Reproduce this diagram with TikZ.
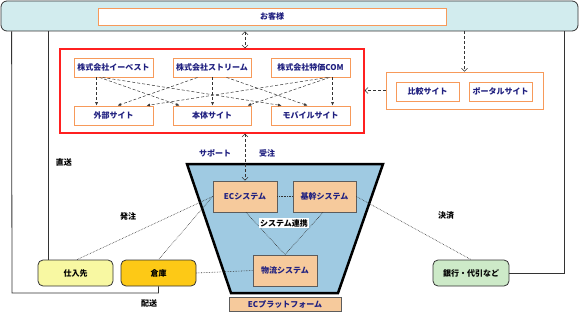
\documentclass[tikz,border=0pt]{standalone}
\usepackage{fontspec}
\newfontfamily\jp{Noto Sans CJK JP}
\usetikzlibrary{arrows.meta,calc}
\definecolor{cyanbg}{HTML}{D2ECEE}
\definecolor{orangeb}{HTML}{F79A5A}
\definecolor{bluebg}{HTML}{9FCAE2}
\definecolor{tanbg}{HTML}{F6CA9C}
\definecolor{supc}{HTML}{F8F8A2}
\definecolor{storec}{HTML}{FDC916}
\definecolor{bankc}{HTML}{CDEAC8}
\definecolor{darkline}{HTML}{333333}
\definecolor{navy}{HTML}{202080}
\definecolor{redb}{HTML}{FF2020}
\tikzset{
  obox/.style={draw=orangeb, line width=0.9pt, fill=white, text=navy, inner sep=0pt, minimum height=19pt},
  sysbox/.style={draw=darkline!80, fill=tanbg, line width=0.8pt, text=navy, minimum width=64pt, minimum height=31pt, inner sep=0pt},
  rbox/.style={draw=darkline, line width=0.8pt, rounded corners=5pt, minimum width=75pt, minimum height=26pt, inner sep=0pt, text=black},
  darrow/.style={densely dashed, draw=darkline, line width=0.5pt, -{Latex[length=3.5pt,width=3pt]}},
  barb/.style={densely dashed, draw=darkline, line width=0.5pt, -{Straight Barb[length=3pt,width=6pt]}},
  dbarb/.style={densely dashed, draw=darkline, line width=0.5pt, {Straight Barb[length=3pt,width=6pt]}-{Straight Barb[length=3pt,width=6pt]}},
  dotline/.style={densely dotted, draw=darkline, line width=0.6pt},
  conn/.style={draw=darkline, line width=0.8pt},
  lbl/.style={text=black, inner sep=1pt},
}
\begin{document}
\begin{tikzpicture}[x=1pt,y=-1pt,font=\jp\bfseries\fontsize{8}{9}\selectfont]
\useasboundingbox (0,0) rectangle (579,313);
% banner
\node[draw=darkline, line width=0.8pt, fill=cyanbg, rounded corners=6pt, minimum width=577pt, minimum height=30pt, inner sep=0pt] (banner) at (289.5,16) {};
\node[obox, minimum width=348pt, minimum height=17pt] (cust) at (272,16.5) {お客様};
% sites group
\node[draw=redb, line width=1.3pt, minimum width=304pt, minimum height=84pt, inner sep=0pt] (sites) at (212,91) {};
\node[obox, minimum width=79pt] (c1) at (113.5,67.5) {株式会社イーベスト};
\node[obox, minimum width=78pt] (c2) at (212,67.5) {株式会社ストリーム};
\node[obox, minimum width=79pt] (c3) at (310.5,67.5) {株式会社特価COM};
\node[obox, minimum width=79pt] (s1) at (113.5,115.5) {外部サイト};
\node[obox, minimum width=78pt] (s2) at (212,115.5) {本体サイト};
\node[obox, minimum width=79pt] (s3) at (310.5,115.5) {モバイルサイト};
\draw[darrow] ([xshift=23pt]c1.south west) -- ([xshift=23pt]s1.north west);
\draw[darrow] ([xshift=26pt]c1.south west) -- ([xshift=7pt]s2.north west);
\draw[darrow] ([xshift=29pt]c1.south west) -- ([xshift=11pt]s3.north west);
\draw[darrow] ([xshift=25pt]c2.south west) -- ([xshift=44pt]s1.north west);
\draw[darrow] ([xshift=40pt]c2.south west) -- ([xshift=40pt]s2.north west);
\draw[darrow] ([xshift=54pt]c2.south west) -- ([xshift=37pt]s3.north west);
\draw[darrow] ([xshift=57pt]c3.south west) -- ([xshift=73pt]s1.north west);
\draw[darrow] ([xshift=59pt]c3.south west) -- ([xshift=75pt]s2.north west);
\draw[darrow] ([xshift=62pt]c3.south west) -- ([xshift=62pt]s3.north west);
% comparison group
\node[draw=orangeb, line width=0.9pt, minimum width=157pt, minimum height=37pt, inner sep=0pt] (cmp) at (464.5,90.5) {};
\node[obox, minimum width=63pt] (cmp1) at (427.5,91.5) {比較サイト};
\node[obox, minimum width=63pt] (cmp2) at (500.5,91.5) {ポータルサイト};
% trapezoid platform
\draw[line width=2.5pt, fill=bluebg, line join=miter] (187,164) -- (383,164) -- (338,293) -- (231,293) -- cycle;
\node[sysbox] (ec) at (245,196.5) {ECシステム};
\node[sysbox, minimum width=63pt] (core) at (324.5,196.5) {基幹システム};
\node[sysbox] (logi) at (285,270.5) {物流システム};
\node[sysbox, minimum width=112pt, minimum height=14pt] (plat) at (285,304) {ECプラットフォーム};
% outside boxes
\node[rbox, fill=supc] (sup) at (75.5,273) {仕入先};
\node[rbox, fill=storec] (store) at (158.5,273) {倉庫};
\node[rbox, minimum width=76pt, fill=bankc] (bank) at (471,273) {銀行・代引など};
% arrows between groups
\draw[dbarb] (banner.south -| ec.north) -- (sites.north -| ec.north);
\draw[dbarb] (sites.south -| ec.north) -- (ec.north);
\draw[barb] (banner.south -| cmp.north) -- (cmp.north);
\draw[barb] (cmp.west) -- (cmp.west -| sites.east);
% dotted links
\coordinate (supT) at ([xshift=1.5pt]sup.north);
\draw[dotline] (ec.west) -- (supT);
\draw[dotline] (ec.west) -- (store.north);
\draw[dotline] (store.east) -- (logi.west);
\draw[dotline] (ec.east) -- (core.west);
\draw[dotline] ([xshift=1pt]ec.south) -- (logi.north);
\draw[dotline] ([xshift=-1.5pt]core.south) -- (logi.north);
\draw[dotline] (core.east) -- (bank.north);
% solid links
\coordinate (supL) at ([xshift=11pt]sup.north west);
\draw[conn] (supL) -- (supL |- banner.south);
\coordinate (bL) at ([xshift=11pt]banner.south west);
\coordinate (delv) at (12,293);
\draw[conn] (bL) -- (delv) -| (store.south);
\coordinate (bR) at ([xshift=-14pt]banner.south east);
\draw[conn] (bank.east) -| (bR);
% labels
\node[lbl, text=navy] (lsup) at (215,153) {サポート};
\node[lbl, text=navy] (lrecv) at (267,153) {受注};
\node[lbl] (ldirect) at (64,162) {直送};
\node[lbl] (lorder) at (128,216) {発注};
\node[lbl] (ldeliv) at (149,303) {配送};
\node[lbl] (lpay) at (446,216) {決済};
\node[lbl, fill=white] (llink) at (284,223) {システム連携};
\end{tikzpicture}
\end{document}
